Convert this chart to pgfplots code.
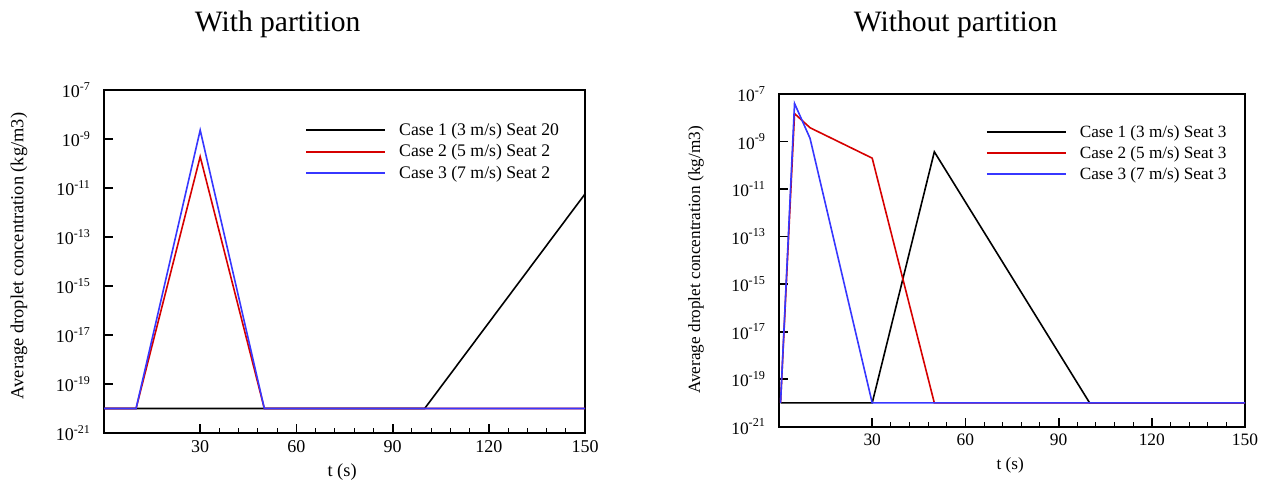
\documentclass[border=0pt]{standalone}
\usepackage{fontspec}
\setmainfont{Liberation Serif}
\usepackage{pgfplots}
\pgfplotsset{compat=1.18}
\definecolor{cred}{RGB}{214,0,0}
\definecolor{cblue}{RGB}{55,55,255}

\pgfplotsset{
  legend image code/.code={\draw[#1, line width=1pt] (0pt,0pt) -- (39.5pt,0pt);},
}

\begin{document}
\begin{tikzpicture}
% with partition
\begin{axis}[
  scale only axis,
  at={(52pt,25pt)}, anchor=south west,
  width=240.5pt, height=171.5pt,
  ymode=log, ymin=1e-21, ymax=1e-7,
  xmin=0, xmax=150,
  xtick={30,60,90,120,150}, xticklabels={30,60,90,120,150},
  minor x tick num=4,
  ytick={1e-21,1e-19,1e-17,1e-15,1e-13,1e-11,1e-9,1e-7},
  yticklabels={10\textsuperscript{-21},10\textsuperscript{-19},10\textsuperscript{-17},10\textsuperscript{-15},10\textsuperscript{-13},10\textsuperscript{-11},10\textsuperscript{-9},10\textsuperscript{-7}},
  yminorticks=false,
  tick align=inside, xtick pos=bottom, ytick pos=left,
  major tick length=4.5pt, minor tick length=2.5pt,
  axis line style={line width=1pt},
  every major tick/.append style={line width=0.9pt, black},
  every minor tick/.append style={line width=0.5pt, black},
  yticklabel style={xshift=-3pt},
  tick label style={font=\fontsize{9}{10}\selectfont},
  legend style={draw=none, fill=none, anchor=north west, row sep=0pt,
    column sep=6.5pt, at={(rel axis cs:0.405,0.927)},
    font=\fontsize{8.85}{10}\selectfont,
    nodes={inner sep=0pt, text height=8pt, text depth=2.75pt}},
  legend cell align=left,
  title={With partition},
  title style={anchor=base, font=\fontsize{14.8}{16}\selectfont, at={(rel axis cs:0.361,1.136)}},
  xlabel={t (s)},
  xlabel style={anchor=base, font=\fontsize{9.2}{10}\selectfont, at={(rel axis cs:0.495,-0.128)}},
  ylabel={Average droplet concentration (kg/m3)},
  ylabel style={anchor=center, font=\fontsize{9.2}{10}\selectfont, at={(rel axis cs:-0.177,0.516)}},
]
\addplot[black, line width=0.8pt] coordinates {(0,1e-20) (100,1e-20) (150,5.7e-12)};
\addplot[cred, line width=0.8pt] coordinates {(0,1e-20) (10,1e-20) (30,1.9e-10) (50,1e-20) (150,1e-20)};
\addplot[cblue, line width=0.8pt] coordinates {(0,1e-20) (10,1e-20) (30,2.3e-9) (50,1e-20) (150,1e-20)};
\legend{Case 1 (3 m/s) Seat 20, Case 2 (5 m/s) Seat 2, Case 3 (7 m/s) Seat 2}
\end{axis}

% without partition
\begin{axis}[
  scale only axis,
  at={(389.5pt,28.15pt)}, anchor=south west,
  width=233pt, height=166.35pt,
  ymode=log, ymin=1e-21, ymax=1e-7,
  xmin=0, xmax=150,
  xtick={30,60,90,120,150}, xticklabels={30,60,90,120,150},
  minor x tick num=4,
  ytick={1e-21,1e-19,1e-17,1e-15,1e-13,1e-11,1e-9,1e-7},
  yticklabels={10\textsuperscript{-21},10\textsuperscript{-19},10\textsuperscript{-17},10\textsuperscript{-15},10\textsuperscript{-13},10\textsuperscript{-11},10\textsuperscript{-9},10\textsuperscript{-7}},
  yminorticks=false,
  tick align=inside, xtick pos=bottom, ytick pos=left,
  major tick length=4.5pt, minor tick length=2.5pt,
  axis line style={line width=1pt},
  every major tick/.append style={line width=0.9pt, black},
  every minor tick/.append style={line width=0.5pt, black},
  yticklabel style={xshift=-3pt},
  tick label style={font=\fontsize{8.7}{10}\selectfont},
  legend style={draw=none, fill=none, anchor=north west, row sep=0pt,
    column sep=6.5pt, at={(rel axis cs:0.43,0.932)},
    font=\fontsize{8.6}{10}\selectfont,
    nodes={inner sep=0pt, text height=8pt, text depth=2.5pt}},
  legend cell align=left,
  title={Without partition},
  title style={anchor=base, font=\fontsize{14.8}{16}\selectfont, at={(rel axis cs:0.379,1.152)}},
  xlabel={t (s)},
  xlabel style={anchor=base, font=\fontsize{8.6}{10}\selectfont, at={(rel axis cs:0.496,-0.128)}},
  ylabel={Average droplet concentration (kg/m3)},
  ylabel style={anchor=center, font=\fontsize{8.6}{10}\selectfont, at={(rel axis cs:-0.178,0.501)}},
]
\addplot[black, line width=0.8pt] coordinates {(0.5,1e-20) (30,1e-20) (50,3.7e-10) (100,1e-20) (150,1e-20)};
\addplot[cred, line width=0.8pt] coordinates {(0.5,1e-20) (5,1.5e-8) (10,3.8e-9) (30,2e-10) (50,1e-20) (150,1e-20)};
\addplot[cblue, line width=0.8pt] coordinates {(0.5,1e-20) (5,4e-8) (10,1.35e-9) (30,1e-20) (150,1e-20)};
\legend{Case 1 (3 m/s) Seat 3, Case 2 (5 m/s) Seat 3, Case 3 (7 m/s) Seat 3}
\end{axis}
\pgfresetboundingbox
\useasboundingbox (0,0) rectangle (632.5pt,241.5pt);
\end{tikzpicture}
\end{document}
